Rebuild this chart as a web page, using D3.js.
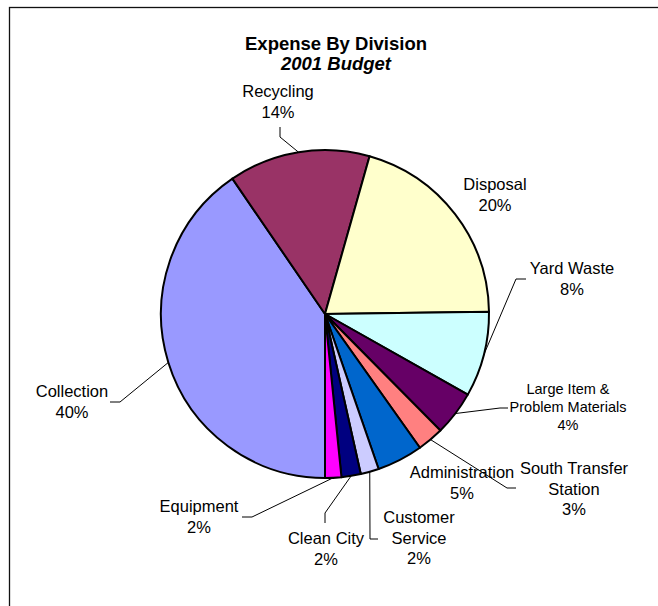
<!DOCTYPE html>
<html>
<head>
<meta charset="utf-8">
<script src="https://cdn.jsdelivr.net/npm/d3@7"></script>
<style>
  html, body { margin: 0; padding: 0; background: #fff; }
  svg { display: block; }
  text { font-family: "Liberation Sans", Arial, sans-serif; fill: #000; }
</style>
</head>
<body>
<svg id="chart" width="658" height="606"></svg>
<script>
// Expense by division, 2001 budget (share of total, %)
const divisions = ["Collection", "Recycling", "Disposal", "Yard Waste",
  "Large Item & Problem Materials", "South Transfer Station", "Administration",
  "Customer Service", "Clean City", "Equipment"];
const shares = [40.45, 13.93, 20.4, 8.4, 4.4, 2.6, 4.52, 1.8, 1.9, 1.6];
const colors = ["#9999FF", "#993366", "#FFFFCC", "#CCFFFF", "#660066",
  "#FF8080", "#0066CC", "#CCCCFF", "#000080", "#FF00FF"];

// Label text lines (name split over lines) per division
const labelLines = [["Collection"], ["Recycling"], ["Disposal"], ["Yard Waste"],
  ["Large Item &", "Problem Materials"], ["South Transfer", "Station"], ["Administration"],
  ["Customer", "Service"], ["Clean City"], ["Equipment"]];

// Label placement: centre x, first baseline y, font size, leader elbow points (null = none)
const labelLayout = [
  { x: 72,  y: 397, size: 16.5, leader: [[110, 402], [120, 402]] },
  { x: 278, y: 97,  size: 16.5, leader: [[280, 127], [280, 137]] },
  { x: 495, y: 190, size: 16.5, leader: null },
  { x: 572, y: 274, size: 16.5, leader: [[526, 279], [516, 279]] },
  { x: 568, y: 394, size: 14.5, leader: [[508, 408], [500, 408]] },
  { x: 574, y: 474, size: 16.5, leader: [[516, 488], [507, 488]] },
  { x: 462, y: 478, size: 16.5, leader: null },
  { x: 419, y: 523, size: 16.5, leader: [[378, 539], [370, 539]] },
  { x: 326, y: 544, size: 16.5, leader: [[325, 523], [325, 513]] },
  { x: 199, y: 512, size: 16.5, leader: [[242, 517], [252, 517]] }
];

const svg = d3.select("#chart");
const cx = 325, cy = 314, radius = 164;

// chart area frame (extends past the right and bottom of the view)
svg.append("rect")
  .attr("x", 9.5).attr("y", 7.5)
  .attr("width", 700).attr("height", 700)
  .attr("fill", "none").attr("stroke", "#111").attr("stroke-width", 1.3);

// title
const title = svg.append("text").attr("text-anchor", "middle")
  .attr("font-weight", "bold").attr("font-size", "18.5px");
title.append("tspan").attr("x", 336).attr("y", 50).text("Expense By Division");
title.append("tspan").attr("x", 336).attr("y", 70).attr("font-style", "italic").text("2001 Budget");

const total = d3.sum(shares);
const data = divisions.map((name, i) => ({ name, value: shares[i], color: colors[i], lines: labelLines[i], layout: labelLayout[i] }));

// first slice begins at 6 o'clock, slices run clockwise
const pie = d3.pie().sort(null).value(d => d.value)
  .startAngle(Math.PI).endAngle(Math.PI * 3);
const arcs = pie(data);
const arc = d3.arc().innerRadius(0).outerRadius(radius);

const g = svg.append("g").attr("transform", `translate(${cx},${cy})`);
g.selectAll("path.slice").data(arcs).join("path")
  .attr("class", "slice")
  .attr("d", arc)
  .attr("fill", d => d.data.color)
  .attr("stroke", "#000").attr("stroke-width", 2).attr("stroke-linejoin", "round");

// leader lines: from label elbow to the slice's outer mid-point
const line = d3.line();
arcs.forEach(a => {
  const lay = a.data.layout;
  if (!lay.leader) return;
  const mid = (a.startAngle + a.endAngle) / 2;
  const edge = [cx + radius * Math.sin(mid), cy - radius * Math.cos(mid)];
  svg.append("path")
    .attr("d", line([...lay.leader, edge]))
    .attr("fill", "none").attr("stroke", "#000").attr("stroke-width", 1);
});

// data labels: name + percentage
const pct = v => Math.round(v / total * 100) + "%";
arcs.forEach(a => {
  const lay = a.data.layout;
  const lh = lay.size * 1.25;
  const t = svg.append("text").attr("text-anchor", "middle").attr("font-size", lay.size + "px");
  const lines = [...a.data.lines, pct(a.data.value)];
  lines.forEach((s, i) => {
    t.append("tspan").attr("x", lay.x).attr("y", lay.y + i * lh).text(s);
  });
});
</script>
</body>
</html>
